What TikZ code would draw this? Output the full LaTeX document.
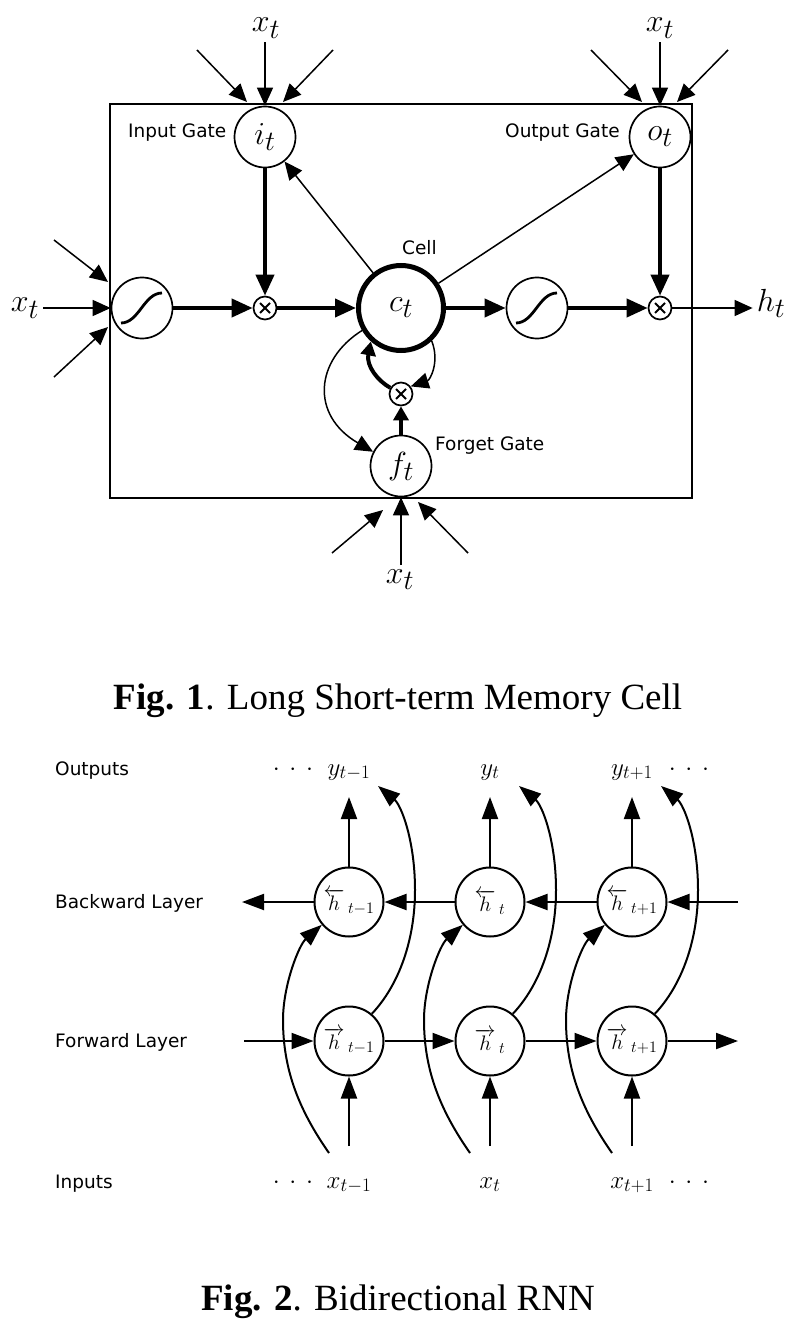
\RequirePackage{fix-cm}
\documentclass[tikz,border=0pt]{standalone}
\usepackage{fontspec}
\setmainfont{Liberation Serif}
\newfontfamily\labfont{DejaVu Sans}
\usetikzlibrary{arrows.meta}
\DeclareMathSizes{32}{32}{28}{20}
\DeclareMathSizes{25}{25}{19}{14}
\DeclareMathSizes{21}{21}{16}{12}
\newcommand\mydots{\cdot\mkern3mu\cdot\mkern3mu\cdot}
\begin{document}
\begin{tikzpicture}[x=1pt,y=-1pt,
  gate/.style={circle,draw,fill=white,line width=1.7pt,minimum size=61pt,inner sep=0pt,font=\fontsize{32}{36}\selectfont},
  multnode/.style={circle,draw,fill=white,line width=1.7pt,minimum size=23pt,inner sep=0pt},
  cellnode/.style={circle,draw,fill=white,line width=5pt,minimum size=85pt,inner sep=0pt,font=\fontsize{32}{36}\selectfont},
  lab/.style={font=\labfont\fontsize{18.5}{22}\selectfont,inner sep=0pt},
  mlab/.style={font=\fontsize{32}{36}\selectfont,inner sep=4pt},
  blab/.style={font=\fontsize{25}{30}\selectfont,inner sep=0pt},
  capt/.style={font=\fontsize{37}{42}\selectfont,inner sep=0pt},
  rnn/.style={circle,draw,line width=2pt,minimum size=69pt,inner sep=0pt,font=\fontsize{21}{24}\selectfont},
  thinarr/.style={line width=1.5pt,-{Triangle[length=18pt,width=16pt]}},
  thickarr/.style={line width=4pt,-{Triangle[length=21pt,width=18pt]}},
  smallthick/.style={line width=4pt,-{Triangle[length=14pt,width=15pt]}},
  barr/.style={line width=2pt,-{Triangle[length=22pt,width=16pt]}},
  sig/.style={line width=2.8pt},
  crossmark/.style={line width=1.8pt}
]
\useasboundingbox (0,0) rectangle (796,1321);

% ================= Fig. 1 =================
\draw[line width=2.5pt] (110,104) rectangle (692,498);

\node[gate] (it) at (265,137) {$i_t$};
\node[gate] (ot) at (660,137) {$o_t$};
\node[gate] (sq1) at (142,308) {};
\node[multnode] (m1) at (265,308) {};
\node[cellnode] (ct) at (401,308) {$c_t$};
\node[gate] (sq2) at (537,308) {};
\node[multnode] (m2) at (660,308) {};
\node[multnode] (fm) at (401,394) {};
\node[gate] (ft) at (401,466) {$f_t$};

% sigmoid glyphs
\foreach \s in {sq1,sq2} {
  \draw[sig] ([shift={(-21,15)}]\s.center) .. controls ([shift={(-3,15)}]\s.center) and ([shift={(2,-15)}]\s.center) .. ([shift={(20,-15)}]\s.center);
}
% multiplication marks
\foreach \m in {m1,m2,fm} {
  \draw[crossmark] ([shift={(-5,-5)}]\m.center) -- ([shift={(5,5)}]\m.center);
  \draw[crossmark] ([shift={(-5,5)}]\m.center) -- ([shift={(5,-5)}]\m.center);
}

% labels
\node[lab,anchor=base west] (lin) at (128,138) {Input Gate};
\node[lab,anchor=base west] (lout) at (505,138) {Output Gate};
\node[lab,anchor=base west] (lcell) at (402,255) {Cell};
\node[lab,anchor=base west] (lforget) at (435,450) {Forget Gate};

\node[mlab,anchor=base] (xa) at (266,32) {$x_t$};
\node[mlab,anchor=base] (xb) at (660,32) {$x_t$};
\node[mlab,anchor=base] (xc) at (25,312) {$x_t$};
\node[mlab,anchor=base] (xd) at (400,583) {$x_t$};
\node[mlab,anchor=base] (ht) at (771,311) {$h_t$};

% external inputs
\coordinate (a1) at (197,50);  \coordinate (a1e) at (247,102);
\coordinate (a2) at (333,50);  \coordinate (a2e) at (283,102);
\coordinate (b1) at (591,50);  \coordinate (b1e) at (642,102);
\coordinate (b2) at (728,50);  \coordinate (b2e) at (677,102);
\coordinate (c1) at (54,240);  \coordinate (c1e) at (108,282);
\coordinate (c2) at (54,377);  \coordinate (c2e) at (108,327);
\coordinate (d1) at (332,553); \coordinate (d1e) at (383,510);
\coordinate (d2) at (468,553); \coordinate (d2e) at (418,502);

\draw[thinarr] (a1) -- (a1e);
\draw[thinarr] (a2) -- (a2e);
\draw[thinarr] (it.north |- xa.south) -- (it.north);
\draw[thinarr] (b1) -- (b1e);
\draw[thinarr] (b2) -- (b2e);
\draw[thinarr] (ot.north |- xb.south) -- (ot.north);
\draw[thinarr] (c1) -- (c1e);
\draw[thinarr] (c2) -- (c2e);
\draw[thinarr] (xc.east |- sq1) -- (sq1.west);
\draw[thinarr] (d1) -- (d1e);
\draw[thinarr] (d2) -- (d2e);
\draw[thinarr] (ft.south |- xd.north) -- (ft.south);

% internal flow
\draw[thickarr] (it) -- (m1);
\draw[thickarr] (sq1) -- (m1);
\draw[thickarr] (m1) -- (ct);
\draw[thickarr] (ct) -- (sq2);
\draw[thickarr] (sq2) -- (m2);
\draw[thickarr] (ot) -- (m2);
\draw[thinarr] (m2) -- (ht.west |- m2);
\draw[thinarr] (ct) -- (it);
\draw[thinarr] (ct) -- (ot);
\draw[thinarr] (ct.210) .. controls (315,360) and (310,415) .. (ft.153);
\draw[thinarr] (ct.313) .. controls (440,362) and (430,380) .. (fm.38);
\draw[smallthick] (fm.150) .. controls (378,381) and (366,366) .. (ct.228);
\draw[smallthick] (ft) -- (fm);

\node[capt,anchor=base] (cap1) at (398,709) {\textbf{Fig. 1}. Long Short-term Memory Cell};

% ================= Fig. 2 =================
\node[lab,anchor=base west] (rout) at (55,775) {Outputs};
\node[lab,anchor=base west] (rback) at (55,908) {Backward Layer};
\node[lab,anchor=base west] (rfwd) at (55,1047) {Forward Layer};
\node[lab,anchor=base west] (rin) at (55,1188) {Inputs};

\node[rnn] (hb1) at (349,902) {$\overleftarrow{h}\,_{t-1}$};
\node[rnn] (hb2) at (490,902) {$\overleftarrow{h}\,_{t}$};
\node[rnn] (hb3) at (632,902) {$\overleftarrow{h}\,_{t+1}$};
\node[rnn] (hf1) at (349,1041) {$\overrightarrow{h}\,_{t-1}$};
\node[rnn] (hf2) at (490,1041) {$\overrightarrow{h}\,_{t}$};
\node[rnn] (hf3) at (632,1041) {$\overrightarrow{h}\,_{t+1}$};

\node[blab,anchor=base] (ydl) at (293,775) {$\mydots$};
\node[blab,anchor=base] (y1) at (349,775) {$y_{t-1}$};
\node[blab,anchor=base] (y2) at (490,775) {$y_t$};
\node[blab,anchor=base] (y3) at (632,775) {$y_{t+1}$};
\node[blab,anchor=base] (ydr) at (689,775) {$\mydots$};

\node[blab,anchor=base] (xdl) at (293,1188) {$\mydots$};
\node[blab,anchor=base] (x1) at (349,1188) {$x_{t-1}$};
\node[blab,anchor=base] (x2) at (490,1188) {$x_t$};
\node[blab,anchor=base] (x3) at (632,1188) {$x_{t+1}$};
\node[blab,anchor=base] (xdr) at (689,1188) {$\mydots$};

\coordinate (br) at (738,902);  \coordinate (bl) at (242,902);
\coordinate (fl) at (244,1041); \coordinate (fr) at (738,1041);
\draw[barr] (br) -- (hb3);
\draw[barr] (hb3) -- (hb2);
\draw[barr] (hb2) -- (hb1);
\draw[barr] (hb1) -- (bl);
\draw[barr] (fl) -- (hf1);
\draw[barr] (hf1) -- (hf2);
\draw[barr] (hf2) -- (hf3);
\draw[barr] (hf3) -- (fr);

\foreach \i/\x in {1/349,2/490,3/632} {
  \coordinate (yt\i) at (\x,797);
  \coordinate (xs\i) at (\x,1146);
  \coordinate (cs\i) at (\x-20,1153);
  \coordinate (ce\i) at (\x+29,786);
  \draw[barr] (hb\i.north) -- (yt\i);
  \draw[barr] (xs\i) -- (hf\i.south);
  \draw[barr] (cs\i) .. controls (\x-50,1110) and (\x-66,1070) .. (\x-66,1020)
        .. controls (\x-66,985) and (\x-50,945) .. (hb\i.220);
  \draw[barr] (hf\i.50) .. controls (\x+50,985) and (\x+66,940) .. (\x+66,890)
        .. controls (\x+66,840) and (\x+52,805) .. (ce\i);
}

\node[capt,anchor=base] (cap2) at (398,1310) {\textbf{Fig. 2}. Bidirectional RNN};
\end{tikzpicture}
\end{document}
